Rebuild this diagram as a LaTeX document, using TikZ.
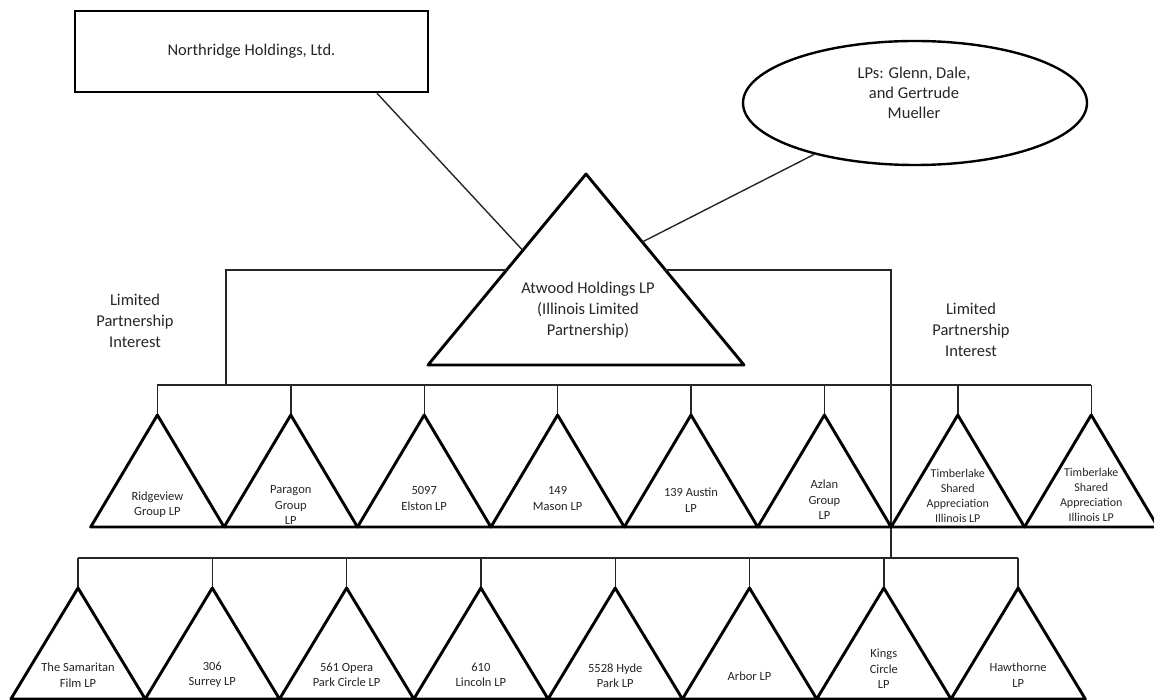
\documentclass[tikz,border=0pt]{standalone}
\usepackage{fontspec}
\setmainfont{Carlito}
\usetikzlibrary{shapes.geometric,calc}
\begin{document}
\begin{tikzpicture}[x=1pt,y=-1pt,
  conn/.style={line width=1.4pt, black!85},
  tri/.style={line width=2.9pt, line join=round},
  big/.style={font=\fontsize{16.5}{21}\selectfont, align=center, text=black!85, inner sep=0pt},
  small/.style={font=\fontsize{12.5}{15.5}\selectfont, align=center, text=black!85, inner sep=0pt},
  tight/.style={font=\fontsize{12}{14.8}\selectfont},
]
\useasboundingbox (0,0) rectangle (1154,700);
% top entities
\node[draw, line width=2.4pt, minimum width=353pt, minimum height=81pt, big] (north) at (251.5,51.5) {Northridge Holdings, Ltd.};
\node[draw, ellipse, line width=2.4pt, minimum width=344pt, minimum height=124pt, inner sep=0pt] (lps) at (915,103) {};
\node[big, font=\fontsize{16.5}{20}\selectfont] (lpstext) at (914,93) {LPs: Glenn, Dale,\\and Gertrude\\Mueller};
% Atwood triangle
\coordinate (atA) at (586,174);
\coordinate (atL) at (428,365);
\coordinate (atR) at (744,365);
\draw[tri] (atA) -- (atL) -- (atR) -- cycle;
\node[big] (atwood) at (588,310) {Atwood Holdings LP\\(Illinois Limited\\Partnership)};
% connectors to top entities
\coordinate (nfoot) at ($(north.south west)!0.853!(north.south east)$);
\coordinate (atLside) at ($(atA)!0.4!(atL)$);
\coordinate (atRside) at ($(atA)!0.356!(atR)$);
\draw[conn] (nfoot) -- (atLside);
\draw[conn] (atRside) -- (lps);
% brackets
\coordinate (lbr) at ($(atA)!0.503!(atL)$);
\coordinate (rbr) at ($(atA)!0.503!(atR)$);
\coordinate (b1j) at (226,385);
\coordinate (b2j) at (891,558);
\draw[conn] (lbr) -| (b1j);
\draw[conn] (rbr) -| (b2j);
\node[big] (lpiL) at (135,321) {Limited\\Partnership\\Interest};
\node[big] (lpiR) at (971,330) {Limited\\Partnership\\Interest};
% row 1
\foreach \i in {0,...,7}{
  \coordinate (p\i) at ({157.4+133.4*\i},385);
  \coordinate (a\i) at ({157.4+133.4*\i},415);
}
\draw[conn] (p0) -- (p7);
\foreach \i in {0,...,7}{
  \draw[conn] (p\i) -- (a\i);
  \draw[tri] (a\i) -- ++(-66.7,112) -- ++(133.4,0) -- cycle;
}
\foreach \i/\y/\t in {0/504.5/{Ridgeview\\Group LP},1/505/{Paragon\\Group\\LP},2/498.5/{5097\\Elston LP},3/498.5/{149\\Mason LP},4/500/{139 Austin\\LP},5/500/{Azlan\\Group\\LP}}{
  \node[small] (l\i) at ({157.4+133.4*\i},\y) {\t};
}
\node[small, tight] (l6) at ({157.4+133.4*6},496) {Timberlake\\Shared\\Appreciation\\Illinois LP};
\node[small, tight] (l7) at ({157.4+133.4*7},495) {Timberlake\\Shared\\Appreciation\\Illinois LP};
% row 2
\foreach \i in {0,...,7}{
  \coordinate (q\i) at ({78+134.3*\i},558);
  \coordinate (c\i) at ({78+134.3*\i},588);
}
\draw[conn] (q0) -- (q7);
\foreach \i in {0,...,7}{
  \draw[conn] (q\i) -- (c\i);
  \draw[tri] (c\i) -- ++(-67.1,111) -- ++(134.3,0) -- cycle;
}
\foreach \i/\y/\t in {0/675/{The Samaritan\\Film LP},1/675/{306\\Surrey LP},2/675/{561 Opera\\Park Circle LP},3/675/{610\\Lincoln LP},4/675.5/{5528 Hyde\\Park LP},5/676/{Arbor LP},6/669/{Kings\\Circle\\LP},7/675/{Hawthorne\\LP}}{
  \node[small] (m\i) at ({78+134.3*\i},\y) {\t};
}
\end{tikzpicture}
\end{document}
